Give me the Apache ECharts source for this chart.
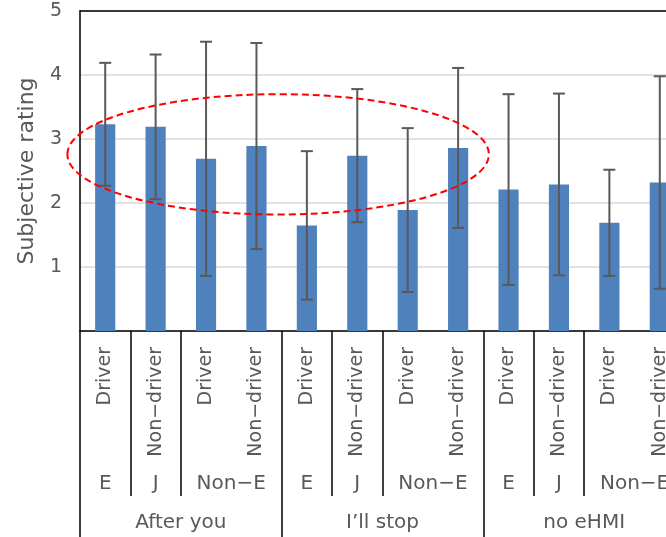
<!DOCTYPE html>
<html>
<head>
<meta charset="utf-8">
<script src="https://cdn.jsdelivr.net/npm/echarts@6/dist/echarts.min.js"></script>
<style>
  html, body { margin: 0; padding: 0; overflow: hidden; background: #fff; }
  #chart { width: 720px; height: 537px; }
</style>
</head>
<body>
<div id="chart"></div>
<script>
// Bar categories, three label levels (innermost first)
const roles = ['Driver', 'Non−driver', 'Driver', 'Non−driver',
               'Driver', 'Non−driver', 'Driver', 'Non−driver',
               'Driver', 'Non−driver', 'Driver', 'Non−driver'];
const origins = ['E', 'J', 'Non−E', 'Non−E',
                 'E', 'J', 'Non−E', 'Non−E',
                 'E', 'J', 'Non−E', 'Non−E'];
const scenarios = ['After you', 'After you', 'After you', 'After you',
                   'I’ll stop', 'I’ll stop', 'I’ll stop', 'I’ll stop',
                   'no eHMI', 'no eHMI', 'no eHMI', 'no eHMI'];

// Mean rating and standard deviation per bar
const means = [3.23, 3.19, 2.69, 2.89, 1.65, 2.74, 1.89, 2.86, 2.21, 2.29, 1.69, 2.32];
const sds   = [0.96, 1.13, 1.83, 1.61, 1.16, 1.04, 1.28, 1.25, 1.49, 1.42, 0.83, 1.66];

// Value axis ticks
const yTicks = [0, 1, 2, 3, 4, 5];

// Highlight ellipse, in axis units (category index / rating)
const ellipseCenter = [3.43, 2.76];
const ellipseRadius = [4.18, 0.94];

const TEXT = '#595959';
const FONT = 'DejaVu Sans, Verdana, sans-serif';

// Merge consecutive equal labels (within the same scenario) into spans
function spans(labels, keys) {
  const out = [];
  for (let i = 0; i < labels.length; i++) {
    const last = out[out.length - 1];
    if (last && last.label === labels[i] && keys[last.start] === keys[i]) last.end = i + 1;
    else out.push({ label: labels[i], start: i, end: i + 1 });
  }
  return out;
}

// Build a boundary-point axis (2 points per category) carrying span labels
function spanAxis(runs, tickLen, margin) {
  const n = roles.length * 2 + 1;
  const data = new Array(n).fill('');
  const ticks = new Set([n - 1]);
  runs.forEach(r => { data[r.start + r.end] = r.label; ticks.add(r.start * 2); });
  return {
    type: 'category', gridIndex: 0, position: 'bottom', boundaryGap: false,
    data: data,
    axisLine: { show: false },
    axisTick: { show: true, length: tickLen, interval: (i) => ticks.has(i),
                lineStyle: { color: '#000', width: 1.5 } },
    axisLabel: { interval: (i, v) => v !== '', margin: margin, color: TEXT,
                 fontSize: 20, fontFamily: FONT },
    splitLine: { show: false }
  };
}

const originRuns = spans(origins, scenarios);
const scenarioRuns = spans(scenarios, scenarios);

const chart = echarts.init(document.getElementById('chart'), null, { renderer: 'canvas' });

const option = {
  animation: false,
  backgroundColor: '#fff',
  grid: { left: 80, top: 11, width: 605, height: 320 },
  xAxis: [
    {
      type: 'category', data: roles, gridIndex: 0, position: 'bottom',
      axisLine: { lineStyle: { color: '#000', width: 1.5 } },
      axisTick: { show: false },
      axisLabel: { rotate: 90, interval: 0, margin: 16, color: TEXT,
                   fontSize: 19, fontFamily: FONT }
    },
    spanAxis(originRuns, 165, 143),
    spanAxis(scenarioRuns, 206, 182),
    {
      // plot-area top edge
      type: 'category', data: roles, gridIndex: 0, position: 'top',
      axisLine: { lineStyle: { color: '#000', width: 1.5 } },
      axisTick: { show: false }, axisLabel: { show: false }
    }
  ],
  yAxis: {
    type: 'value', min: yTicks[0], max: yTicks[yTicks.length - 1], interval: 1,
    name: 'Subjective rating', nameLocation: 'middle', nameGap: 42,
    nameTextStyle: { color: TEXT, fontSize: 22, fontFamily: FONT },
    axisLine: { show: true, lineStyle: { color: '#000', width: 1.5 } },
    axisTick: { show: false },
    axisLabel: { margin: 18, color: TEXT, fontSize: 19, fontFamily: FONT,
                 formatter: v => (v === 0 ? '' : String(v)) },
    splitLine: { lineStyle: { color: '#d9d9d9', width: 1.5 } }
  },
  series: [
    {
      type: 'bar', xAxisIndex: 0, yAxisIndex: 0, data: means, barWidth: '40%',
      itemStyle: { color: '#4f81bd' }
    },
    {
      type: 'custom', xAxisIndex: 0, yAxisIndex: 0, z: 5,
      data: means.map((m, i) => [i, m - sds[i], m + sds[i]]),
      renderItem: function (params, api) {
        const lo = api.coord([api.value(0), api.value(1)]);
        const hi = api.coord([api.value(0), api.value(2)]);
        const w = 6;
        const style = { stroke: '#595959', lineWidth: 2, fill: 'none' };
        return {
          type: 'group',
          children: [
            { type: 'line', shape: { x1: lo[0], y1: lo[1], x2: hi[0], y2: hi[1] }, style },
            { type: 'line', shape: { x1: hi[0] - w, y1: hi[1], x2: hi[0] + w, y2: hi[1] }, style },
            { type: 'line', shape: { x1: lo[0] - w, y1: lo[1], x2: lo[0] + w, y2: lo[1] }, style }
          ]
        };
      }
    }
  ]
};

chart.setOption(option);

// Dashed highlight ellipse placed through the axes' own scales
const p0 = chart.convertToPixel({ xAxisIndex: 0 }, 0);
const p1 = chart.convertToPixel({ xAxisIndex: 0 }, 1);
const step = p1 - p0;
const cy = chart.convertToPixel({ yAxisIndex: 0 }, ellipseCenter[1]);
const ry = chart.convertToPixel({ yAxisIndex: 0 }, ellipseCenter[1] - ellipseRadius[1]) - cy;
chart.setOption({
  graphic: [{
    type: 'ellipse', z: 100,
    shape: { cx: p0 + ellipseCenter[0] * step, cy: cy, rx: ellipseRadius[0] * step, ry: ry },
    style: { fill: 'none', stroke: '#ff0000', lineWidth: 2, lineDash: [7, 4] }
  }]
});
</script>
</body>
</html>
